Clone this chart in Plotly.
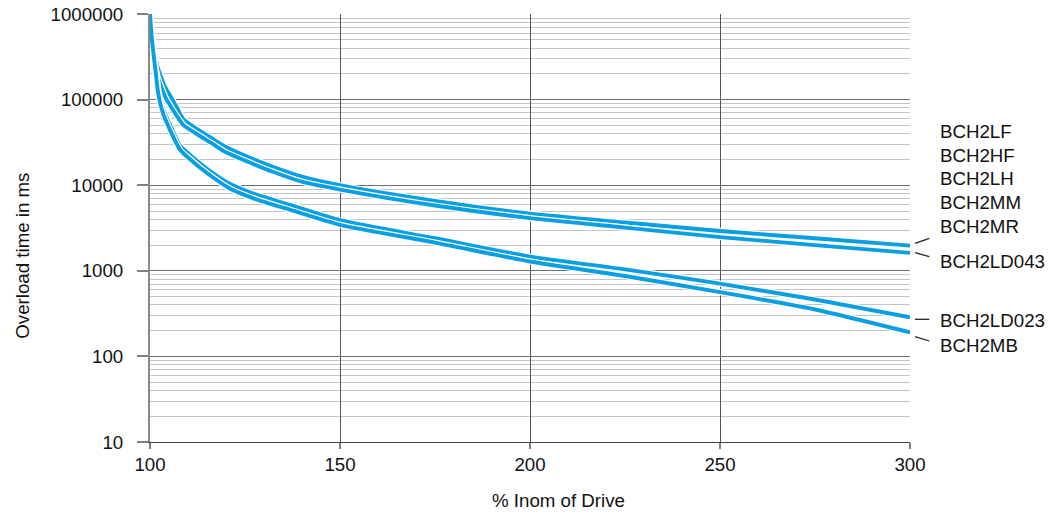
import plotly.graph_objects as go

# ---------------- data ----------------
x_upper = [100, 100.5, 101, 102, 103, 104, 105, 107, 108.8, 112, 116.2, 120,
           126.8, 132.5, 140, 150, 175, 200, 225, 250, 275, 300]
t_lf_group = [1000000, 580000, 385000, 240000, 180000, 140000, 117000, 82000,
              59000, 46500, 35500, 28000, 20500, 16300, 12600, 10000, 6550,
              4650, 3670, 2920, 2400, 1970]
t_ld043 = [1000000, 520000, 320000, 185000, 140000, 108000, 90000, 65000,
           50500, 40500, 31000, 24300, 18000, 14300, 11000, 8900, 5800,
           4130, 3200, 2480, 2000, 1620]

x_lower = [100, 100.5, 101, 101.5, 102, 102.6, 103.5, 105.3, 107.9, 109.7,
           115, 121, 128, 136.8, 150, 175, 200, 225, 250, 275, 300]
t_ld023 = [1000000, 530000, 340000, 230000, 150000, 106000, 77000, 50000,
           29000, 24300, 15600, 10400, 7760, 5900, 3900, 2400, 1465,
           1040, 708, 462, 287]
t_mb = [1000000, 510000, 320000, 210000, 132000, 94000, 68000, 44000, 26000,
        21700, 13900, 9170, 6850, 5180, 3450, 2140, 1285, 870, 564,
        353, 191]

x_ticks = [100, 150, 200, 250, 300]
y_ticks = [10, 100, 1000, 10000, 100000, 1000000]
y_ticktext = ["10", "100", "1000", "10000", "100000", "1000000"]
y_minor = [k * 10 ** e for e in range(1, 6) for k in range(2, 10)]

label_group = ["BCH2LF", "BCH2HF", "BCH2LH", "BCH2MM", "BCH2MR"]
label_ld043 = "BCH2LD043"
label_ld023 = "BCH2LD023"
label_mb = "BCH2MB"

x_title = "% Inom of Drive"
y_title = "Overload time in ms"

# ---------------- styling ----------------
BLUE = "#0A9FE0"
FONT = "Liberation Sans, Arial, sans-serif"
FS = 18.7
TXT = "#111111"

W, H_FIG = 1059, 518
L, T = 150, 14
PW, PH = 760, 428
R, B = W - L - PW, H_FIG - T - PH

fig = go.Figure()
series = [
    ("/".join(label_group), x_upper, t_lf_group),
    (label_ld043, x_upper, t_ld043),
    (label_ld023, x_lower, t_ld023),
    (label_mb, x_lower, t_mb),
]
for name, xs, ys in series:
    fig.add_trace(go.Scatter(x=xs, y=ys, mode="lines", showlegend=False,
                             hoverinfo="skip", cliponaxis=False,
                             line=dict(color="white", width=6.3,
                                       shape="spline", smoothing=0.6)))
    fig.add_trace(go.Scatter(x=xs, y=ys, mode="lines", name=name,
                             showlegend=False, cliponaxis=False,
                             line=dict(color=BLUE, width=3.9,
                                       shape="spline", smoothing=0.6)))

fig.update_layout(
    width=W, height=H_FIG,
    margin=dict(l=L, r=R, t=T, b=B, pad=0),
    paper_bgcolor="white", plot_bgcolor="white",
    font=dict(family=FONT, size=FS, color=TXT),
    showlegend=False,
)

fig.update_xaxes(
    range=[100, 300], tickmode="array", tickvals=x_ticks,
    showgrid=True, gridcolor="#555555", gridwidth=1,
    zeroline=False, showline=True, linecolor="#444444", linewidth=1,
    ticks="outside", ticklen=6, tickcolor="#808080", tickwidth=1.5,
    tickfont=dict(family=FONT, size=FS, color=TXT),
    automargin=False, fixedrange=True,
)
fig.update_yaxes(
    type="log", range=[0.99995, 6.001], tickmode="array", tickvals=y_ticks,
    ticktext=y_ticktext, ticklabeloverflow="allow",
    showgrid=True, gridcolor="#6e6e6e", gridwidth=1.2,
    zeroline=False, showline=True, linecolor="#8a8a8a", linewidth=2,
    ticks="outside", ticklen=11, tickcolor="#808080", tickwidth=1.5,
    ticklabelstandoff=10,
    tickfont=dict(family=FONT, size=FS, color=TXT),
    minor=dict(tickmode="array", tickvals=y_minor, showgrid=True,
               gridcolor="#c4c4c4", gridwidth=1, ticks=""),
    automargin=False, fixedrange=True,
)


# helpers: reference-pixel -> paper coordinates
def px(pix):
    return (pix - L) / PW


def py(pix):
    return (T + PH - pix) / PH


# axis titles
fig.add_annotation(text=x_title, xref="paper", yref="paper",
                   x=px(558), y=py(500), showarrow=False,
                   font=dict(family=FONT, size=FS, color=TXT),
                   xanchor="center", yanchor="middle")
fig.add_annotation(text=y_title, xref="paper", yref="paper",
                   x=px(21.7), y=py(256), showarrow=False, textangle=-90,
                   font=dict(family=FONT, size=FS, color=TXT),
                   xanchor="center", yanchor="middle")

# right-hand labels
group_pix = [131.7, 155.3, 179.0, 202.7, 226.5]
for txt, p in zip(label_group, group_pix):
    fig.add_annotation(text=txt, xref="paper", yref="paper", x=px(938), y=py(p),
                       showarrow=False, xanchor="left", yanchor="middle",
                       font=dict(family=FONT, size=FS, color=TXT))
for txt, p in [(label_ld043, 261.0), (label_ld023, 320.7), (label_mb, 345.0)]:
    fig.add_annotation(text=txt, xref="paper", yref="paper", x=px(938), y=py(p),
                       showarrow=False, xanchor="left", yanchor="middle",
                       font=dict(family=FONT, size=FS, color=TXT))

# short leader strokes
for a, b in [(243.3, 238.3), (252.7, 256.7), (319.3, 319.3), (336.7, 341.0)]:
    fig.add_shape(type="line", xref="paper", yref="paper",
                  x0=px(915), x1=px(929.3), y0=py(a), y1=py(b),
                  line=dict(color="#222222", width=1.3))

# remove the default 8px page margin so the figure fills the window exactly
fig.write_html("out.html",
               config={"displayModeBar": False, "staticPlot": False},
               post_script="document.body.style.margin='0';"
                           "document.body.style.overflow='hidden';")
